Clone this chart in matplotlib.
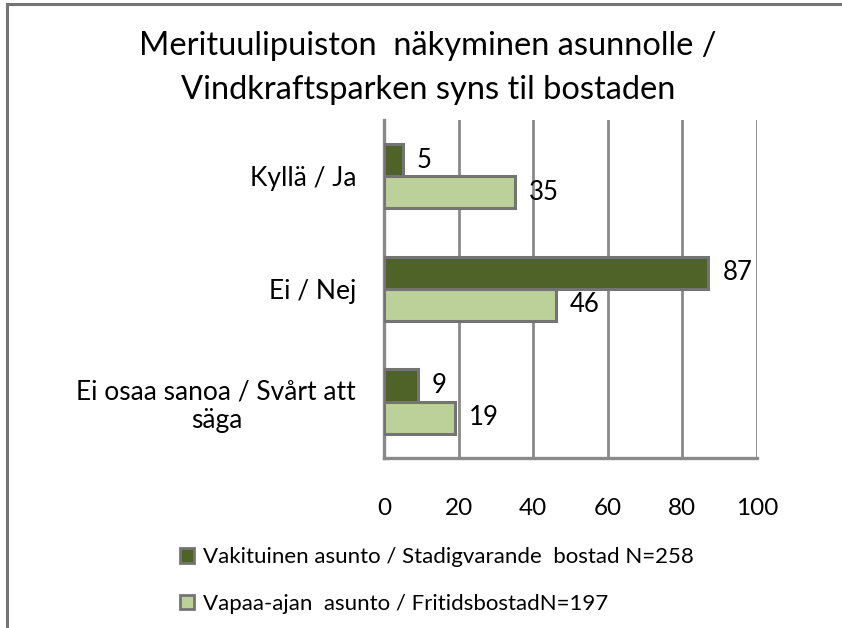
#!/usr/bin/env python3
"""
Merituulipuiston näkyminen asunnolle - horizontal bar chart
"""

import matplotlib
matplotlib.use('Agg')
import matplotlib.pyplot as plt
from matplotlib.lines import Line2D
from matplotlib.patches import Patch
import numpy as np

categories = ['Kyllä / Ja', 'Ei / Nej', 'Ei osaa sanoa / Svårt att\nsäga']
series_names = ['Vakituinen asunto / Stadigvarande  bostad N=258',
                'Vapaa-ajan  asunto / FritidsbostadN=197']
vakituinen = [5, 87, 9]
vapaa_ajan = [35, 46, 19]
x_ticks = [0, 20, 40, 60, 80, 100]

title = 'Merituulipuiston  näkyminen asunnolle /\nVindkraftsparken syns til bostaden'

dark_green = '#4f6228'
light_green = '#bcd09a'
edge_gray = '#747474'
grid_gray = '#8a8a8a'

plt.rcParams['font.family'] = ['Lato', 'DejaVu Sans']


def main():
    fig = plt.figure(figsize=(8.42, 6.28), dpi=100)
    ax = fig.add_axes([0.456, 0.271, 0.443, 0.538])

    y = np.arange(len(categories))
    h = 0.285
    ax.barh(y - h / 2, vakituinen, height=h, color=dark_green,
            edgecolor=edge_gray, linewidth=2.2, zorder=3)
    ax.barh(y + h / 2, vapaa_ajan, height=h, color=light_green,
            edgecolor=edge_gray, linewidth=2.2, zorder=3)

    # value labels at the bar ends
    for i, v in enumerate(vakituinen):
        ax.annotate(str(v), (v, y[i] - h / 2), xytext=(10, 0),
                    textcoords='offset points', va='center', ha='left',
                    fontsize=18.5)
    for i, v in enumerate(vapaa_ajan):
        ax.annotate(str(v), (v, y[i] + h / 2), xytext=(10, 0),
                    textcoords='offset points', va='center', ha='left',
                    fontsize=18.5)

    ax.set_xlim(0, 100)
    ax.set_ylim(len(categories) - 0.5, -0.5)
    ax.set_xticks(x_ticks)
    ax.set_yticks(y)
    ax.set_yticklabels(categories, fontsize=19, multialignment='center')
    ax.tick_params(axis='x', length=0, pad=29, labelsize=17.5)
    ax.tick_params(axis='y', length=0, pad=20)

    ax.grid(axis='x', color=grid_gray, linewidth=2, zorder=0)
    ax.set_axisbelow(True)
    for side in ['top', 'right']:
        ax.spines[side].set_visible(False)
    for side in ['left', 'bottom']:
        ax.spines[side].set_color(grid_gray)
        ax.spines[side].set_linewidth(2.4)

    fig.text(0.508, 0.891, title, ha='center', va='center', fontsize=23.5,
             linespacing=1.58)

    # legend below the chart
    handles = [Patch(facecolor=dark_green, edgecolor=edge_gray, linewidth=2),
               Patch(facecolor=light_green, edgecolor=edge_gray, linewidth=2)]
    fig.legend(handles, series_names, loc='upper left',
               bbox_to_anchor=(0.2, 0.1465), frameon=False,
               fontsize=16, handlelength=0.65, handleheight=0.65,
               handletextpad=0.4, labelspacing=1.2, borderpad=0)

    # partial outer frame (top and left edges)
    fig.add_artist(Line2D([0.008, 1.0], [0.993, 0.993], color=edge_gray,
                          linewidth=2.2, transform=fig.transFigure))
    fig.add_artist(Line2D([0.008, 0.008], [0.0, 0.993], color=edge_gray,
                          linewidth=2.2, transform=fig.transFigure))

    fig.savefig('out.png', dpi=100)
    plt.close(fig)


if __name__ == '__main__':
    main()
